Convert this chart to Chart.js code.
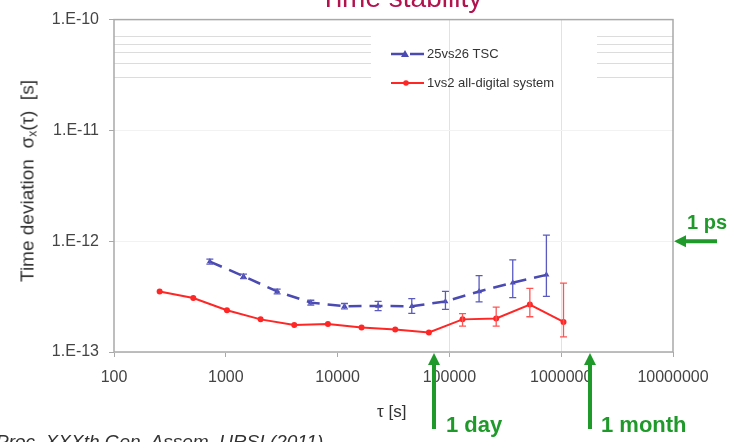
<!DOCTYPE html>
<html>
<head>
<meta charset="utf-8">
<title>Time stability</title>
<script src="https://cdn.jsdelivr.net/npm/chart.js@4.4.1/dist/chart.umd.min.js"></script>
<style>
    body { margin: 0; background: #fff; font-family: "Liberation Sans", Arial, sans-serif; }
    #wrap { position: relative; width: 735px; height: 442px; overflow: hidden; background: #fff; }
    #wrap canvas { position: absolute; left: 0; top: 0; }
    .lbl { position: absolute; white-space: pre; line-height: 1; }
    #title { left: 0; width: 802px; top: -16px; text-align: center; font-size: 28px; color: #b0134e; }
    #ytitle { left: 27px; top: 181px; font-size: 19px; color: #333; transform: translate(-50%, -50%) rotate(-90deg); }
    #ytitle sub { font-size: 12px; vertical-align: -3px; line-height: 0; }
    #xtitle { left: 377px; top: 403px; font-size: 17px; color: #333; }
    .green { color: #1f9a2a; font-weight: bold; font-size: 22px; }
    #day { left: 446px; top: 414px; }
    #month { left: 601px; top: 414px; }
    #ps { left: 687px; top: 212px; font-size: 20px; }
    #cite { left: -4px; top: 432px; font-size: 19px; font-style: italic; color: #333; }
</style>
</head>
<body>
<div id="wrap">
    <canvas id="chart" width="735" height="442"></canvas>
    <div class="lbl" id="title">Time stability</div>
    <div class="lbl" id="ytitle">Time deviation  σ<sub>x</sub>(τ)  [s]</div>
    <div class="lbl" id="xtitle">τ [s]</div>
    <div class="lbl green" id="day">1 day</div>
    <div class="lbl green" id="month">1 month</div>
    <div class="lbl green" id="ps">1 ps</div>
    <div class="lbl" id="cite">Proc. XXXth Gen. Assem. URSI (2011)</div>
</div>
<script>
// 25vs26 TSC (blue, dashed)
const blueTau  = [720, 1440, 2880, 5760, 11520, 23040, 46080, 92160, 184320, 368640, 737280];
const blueDev  = [6.55e-13, 4.83e-13, 3.52e-13, 2.79e-13, 2.59e-13, 2.60e-13, 2.59e-13, 2.86e-13, 3.52e-13, 4.22e-13, 4.97e-13];
const blueLow  = [6.2e-13, 4.6e-13, 3.35e-13, 2.65e-13, 2.45e-13, 2.36e-13, 2.23e-13, 2.42e-13, 2.83e-13, 3.10e-13, 3.18e-13];
const blueHigh = [6.9e-13, 5.05e-13, 3.7e-13, 2.93e-13, 2.74e-13, 2.86e-13, 3.03e-13, 3.52e-13, 4.90e-13, 6.78e-13, 1.135e-12];

// 1vs2 all-digital system (red)
const redTau  = [256, 512, 1024, 2048, 4096, 8192, 16384, 32768, 65536, 131072, 262144, 524288, 1048576];
const redDev  = [3.52e-13, 3.07e-13, 2.38e-13, 1.97e-13, 1.75e-13, 1.79e-13, 1.66e-13, 1.60e-13, 1.50e-13, 1.97e-13, 2.01e-13, 2.68e-13, 1.87e-13];
const redLow  = [null, null, null, null, null, null, null, null, null, 1.71e-13, 1.71e-13, 2.08e-13, 1.37e-13];
const redHigh = [null, null, null, null, null, null, null, null, null, 2.22e-13, 2.54e-13, 3.75e-13, 4.18e-13];

// axes
const xTicks = [100, 1000, 10000, 100000, 1000000, 10000000];
const yTicks = [1e-13, 1e-12, 1e-11, 1e-10];
const xGridShown = [100000, 1000000];

// annotation anchors
const dayTau = 72800;
const monthTau = 1.81e6;
const psLevel = 1e-12;

const blueColor = '#4a4ab2';
const redColor = '#ff2626';
const green = '#1f9a2a';
const vGridColor = '#e2e2e2';

// y grid: decades plus 2..9 minors
const yGrid = [];
yTicks.forEach((d, i) => {
    yGrid.push({ value: d, decade: true, k: 1, top: false });
    if (i < yTicks.length - 1) {
        for (let k = 2; k <= 9; k++) {
            yGrid.push({ value: k * d, decade: false, k: k, top: i === yTicks.length - 2 });
        }
    }
});

const decorations = {
    id: 'decorations',
    beforeDatasetsDraw(chart) {
        const { ctx, chartArea: a, scales } = chart;
        ctx.save();
        // legend box (covers horizontal grid only)
        ctx.fillStyle = '#fff';
        ctx.fillRect(371, 20, 226, 76);
        ctx.strokeStyle = vGridColor;
        ctx.lineWidth = 1;
        xGridShown.forEach(v => {
            const x = Math.round(scales.x.getPixelForValue(v)) + 0.5;
            ctx.beginPath(); ctx.moveTo(x, a.top); ctx.lineTo(x, 96); ctx.stroke();
        });
        // frame
        ctx.strokeStyle = '#a9a9a9';
        ctx.lineWidth = 1.5;
        ctx.strokeRect(a.left, a.top, a.right - a.left, a.bottom - a.top);

        // legend entries
        ctx.font = '13px "Liberation Sans", Arial, sans-serif';
        ctx.textBaseline = 'middle';

        ctx.strokeStyle = blueColor;
        ctx.lineWidth = 2.5;
        ctx.setLineDash([14, 5]);
        ctx.beginPath(); ctx.moveTo(391, 54); ctx.lineTo(424, 54); ctx.stroke();
        ctx.setLineDash([]);
        ctx.fillStyle = blueColor;
        ctx.beginPath(); ctx.moveTo(405, 50); ctx.lineTo(409, 57); ctx.lineTo(401, 57); ctx.closePath(); ctx.fill();
        ctx.fillStyle = '#333';
        ctx.fillText('25vs26 TSC', 427, 54);

        ctx.strokeStyle = redColor;
        ctx.lineWidth = 2;
        ctx.beginPath(); ctx.moveTo(391, 83); ctx.lineTo(424, 83); ctx.stroke();
        ctx.fillStyle = redColor;
        ctx.beginPath(); ctx.arc(406, 83, 2.8, 0, Math.PI * 2); ctx.fill();
        ctx.fillStyle = '#333';
        ctx.fillText('1vs2 all-digital system', 427, 83);
        ctx.restore();
    },
    afterDatasetsDraw(chart) {
        const { ctx, scales } = chart;
        const bars = [
            { tau: blueTau, low: blueLow, high: blueHigh, color: '#5a5ac0' },
            { tau: redTau, low: redLow, high: redHigh, color: '#ff5454' }
        ];
        ctx.save();
        ctx.lineWidth = 1.3;
        bars.forEach(b => {
            ctx.strokeStyle = b.color;
            b.tau.forEach((t, i) => {
                if (b.low[i] == null) return;
                const x = scales.x.getPixelForValue(t);
                const y1 = scales.y.getPixelForValue(b.low[i]);
                const y2 = scales.y.getPixelForValue(b.high[i]);
                ctx.beginPath();
                ctx.moveTo(x, y1); ctx.lineTo(x, y2);
                ctx.moveTo(x - 3.5, y1); ctx.lineTo(x + 3.5, y1);
                ctx.moveTo(x - 3.5, y2); ctx.lineTo(x + 3.5, y2);
                ctx.stroke();
            });
        });
        ctx.restore();
    },
    afterDraw(chart) {
        const { ctx, scales, chartArea: a } = chart;
        ctx.save();
        ctx.strokeStyle = green;
        ctx.fillStyle = green;
        ctx.lineWidth = 4;
        // vertical arrows pointing up at the time axis
        [dayTau, monthTau].forEach(t => {
            const x = scales.x.getPixelForValue(t);
            const tip = a.bottom + 1;
            ctx.beginPath(); ctx.moveTo(x, a.bottom + 77); ctx.lineTo(x, tip + 10); ctx.stroke();
            ctx.beginPath(); ctx.moveTo(x, tip); ctx.lineTo(x + 6, tip + 12); ctx.lineTo(x - 6, tip + 12); ctx.closePath(); ctx.fill();
        });
        // 1 ps arrow pointing left
        const y = scales.y.getPixelForValue(psLevel);
        const tipX = a.right + 1;
        ctx.beginPath(); ctx.moveTo(a.right + 44, y); ctx.lineTo(tipX + 10, y); ctx.stroke();
        ctx.beginPath(); ctx.moveTo(tipX, y); ctx.lineTo(tipX + 12, y - 6); ctx.lineTo(tipX + 12, y + 6); ctx.closePath(); ctx.fill();
        ctx.restore();
    }
};

const tickFont = { family: '"Liberation Sans", Arial, sans-serif', size: 16 };

new Chart(document.getElementById('chart'), {
    type: 'line',
    data: {
        datasets: [
            {
                label: '25vs26 TSC',
                data: blueTau.map((t, i) => ({ x: t, y: blueDev[i] })),
                borderColor: blueColor,
                backgroundColor: blueColor,
                borderWidth: 2.5,
                borderDash: [13, 8],
                pointStyle: 'triangle',
                pointRadius: 3.5,
                pointBorderWidth: 0,
                tension: 0
            },
            {
                label: '1vs2 all-digital system',
                data: redTau.map((t, i) => ({ x: t, y: redDev[i] })),
                borderColor: redColor,
                backgroundColor: redColor,
                borderWidth: 2,
                pointStyle: 'circle',
                pointRadius: 3,
                pointBorderWidth: 0,
                tension: 0
            }
        ]
    },
    options: {
        responsive: false,
        animation: false,
        layout: { padding: { left: 0, right: 62, top: 17, bottom: 0 } },
        plugins: { legend: { display: false }, tooltip: { enabled: false } },
        scales: {
            x: {
                type: 'logarithmic',
                min: xTicks[0],
                max: xTicks[xTicks.length - 1],
                afterBuildTicks: s => { s.ticks = xTicks.map(v => ({ value: v })); },
                afterFit: s => { s.height = 90; },
                border: { display: false },
                grid: {
                    color: c => (c.tick && xGridShown.includes(c.tick.value)) ? vGridColor : 'rgba(0,0,0,0)',
                    tickColor: '#a9a9a9',
                    tickLength: 5
                },
                ticks: {
                    autoSkip: false,
                    maxRotation: 0,
                    padding: 11,
                    color: '#444',
                    font: tickFont,
                    callback: v => String(v)
                }
            },
            y: {
                type: 'logarithmic',
                min: yTicks[0],
                max: yTicks[yTicks.length - 1],
                afterBuildTicks: s => { s.ticks = yGrid.map(g => ({ value: g.value, decade: g.decade, k: g.k, top: g.top })); },
                afterFit: s => { s.width = 114; },
                border: { display: false },
                grid: {
                    color: c => {
                        const t = c.tick;
                        if (!t) return 'rgba(0,0,0,0)';
                        if (t.top && t.k >= 3 && t.k <= 7) return '#dcdcdc';
                        if (t.decade) return '#f2f2f2';
                        return 'rgba(0,0,0,0)';
                    },
                    tickColor: c => (c.tick && c.tick.decade) ? '#a9a9a9' : 'rgba(0,0,0,0)',
                    tickLength: 5
                },
                ticks: {
                    autoSkip: false,
                    padding: 10,
                    color: '#444',
                    font: tickFont,
                    callback: (v, i, ticks) => ticks[i].decade ? '1.E' + Math.round(Math.log10(v)) : ''
                }
            }
        }
    },
    plugins: [decorations]
});
</script>
</body>
</html>
